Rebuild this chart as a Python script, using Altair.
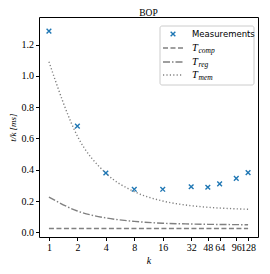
import altair as alt
import pandas as pd

k_vals = [1, 2, 4, 8, 16, 32, 48, 64, 96, 128]
measurements = [1.286, 0.679, 0.379, 0.275, 0.275, 0.291, 0.288, 0.310, 0.345, 0.381]
t_comp = [0.024, 0.024, 0.024, 0.024, 0.024, 0.024, 0.024, 0.024, 0.024, 0.024]
t_reg = [0.225, 0.136, 0.092, 0.070, 0.058, 0.053, 0.051, 0.050, 0.049, 0.048]
t_mem = [1.09, 0.615, 0.378, 0.260, 0.200, 0.170, 0.160, 0.155, 0.150, 0.147]
x_ticks = [1, 2, 4, 8, 16, 32, 48, 64, 96, 128]
y_ticks = [0.0, 0.2, 0.4, 0.6, 0.8, 1.0, 1.2]
title_text = "BOP"

SERIF = "Liberation Serif"
GRAY = "#808080"
BLUE = "#1f77b4"
XPATH = "M-1,-1L1,1M-1,1L1,-1"

W, H = 219, 220

meas_df = pd.DataFrame({"k": k_vals, "t": measurements})
lines_df = pd.concat([
    pd.DataFrame({"k": k_vals, "t": t_comp, "s": "comp"}),
    pd.DataFrame({"k": k_vals, "t": t_reg, "s": "reg"}),
    pd.DataFrame({"k": k_vals, "t": t_mem, "s": "mem"}),
])

xs = alt.Scale(type="log", base=2, domain=[0.785, 163], nice=False)
ys = alt.Scale(domain=[-0.03, 1.376], nice=False, zero=False)

xax = alt.Axis(values=x_ticks, format="d", labelOverlap=False, labelFlush=False,
               grid=False, tickSize=3.5, tickColor="black", domain=False,
               labelFont=SERIF, labelFontSize=10, labelColor="black", labelPadding=2,
               title="k", titleFont=SERIF, titleFontStyle="italic", titleFontWeight="normal",
               titleFontSize=10, titlePadding=3, titleColor="black")
yax = alt.Axis(values=y_ticks, format=".1f", grid=False, tickSize=3.5, tickColor="black",
               domain=False, labelFont=SERIF, labelFontSize=10, labelColor="black",
               labelPadding=2, title="t/k [ms]", titleFont=SERIF, titleFontStyle="italic",
               titleFontWeight="normal", titleFontSize=9, titlePadding=4, titleColor="black")

base_x = alt.X("k:Q", scale=xs, axis=xax)
base_y = alt.Y("t:Q", scale=ys, axis=yax)

dash_scale = alt.Scale(domain=["comp", "reg", "mem"],
                       range=[[5, 2.5], [7, 2, 1.5, 2], [1.2, 2.2]])

lines = alt.Chart(lines_df).mark_line(color=GRAY, strokeWidth=1.4, interpolate="monotone").encode(
    x=base_x, y=base_y,
    strokeDash=alt.StrokeDash("s:N", scale=dash_scale, legend=None),
    detail="s:N",
)

points = alt.Chart(meas_df).mark_point(shape=XPATH, size=22, filled=False, color=BLUE,
                                       strokeWidth=1.4, opacity=1).encode(x=base_x, y=base_y)

dummy = pd.DataFrame({"a": [0]})

title_mark = alt.Chart(dummy).mark_text(text=title_text, font=SERIF, fontSize=9.5, align="center",
                                        baseline="middle", color="black").encode(
    x=alt.value(W / 2), y=alt.value(-4.5))

# manual legend
lx0, lx1, ly0, ly1 = 121, 215, 9, 68
box = alt.Chart(dummy).mark_rect(fill="white", fillOpacity=0.8, stroke="#cccccc",
                                 strokeWidth=1, cornerRadius=2).encode(
    x=alt.value(lx0), x2=alt.value(lx1), y=alt.value(ly0), y2=alt.value(ly1))

rows_y = [17, 31, 45, 58]
leg_x = alt.Chart(dummy).mark_point(shape=XPATH, size=22, filled=False, color=BLUE,
                                    strokeWidth=1.4, opacity=1).encode(
    x=alt.value(134), y=alt.value(rows_y[0]))
leg_txt = alt.Chart(dummy).mark_text(text="Measurements", font="DejaVu Sans", fontSize=8.5,
                                     align="left", baseline="middle", color="black").encode(
    x=alt.value(153), y=alt.value(rows_y[0]))

leg_layers = [box, leg_x, leg_txt]
dashes = [[5, 2.5], [7, 2, 1.5, 2], [1.2, 2.2]]
subs = ["comp", "reg", "mem"]
for i in range(3):
    yy = rows_y[i + 1]
    leg_layers.append(alt.Chart(dummy).mark_rule(color=GRAY, strokeWidth=1.4, strokeDash=dashes[i]).encode(
        x=alt.value(124), x2=alt.value(144), y=alt.value(yy)))
    leg_layers.append(alt.Chart(dummy).mark_text(text="T", font=SERIF, fontStyle="italic", fontSize=10.5,
                                                 align="left", baseline="middle", color="black").encode(
        x=alt.value(153), y=alt.value(yy)))
    leg_layers.append(alt.Chart(dummy).mark_text(text=subs[i], font=SERIF, fontStyle="italic", fontSize=7.5,
                                                 align="left", baseline="middle", color="black").encode(
        x=alt.value(159.5), y=alt.value(yy + 3)))

chart = alt.layer(lines, points, title_mark, *leg_layers).properties(
    width=W, height=H,
    autosize=alt.AutoSizeParams(type="none"),
    padding={"left": 31, "top": 9, "right": 4, "bottom": 29},
).configure_view(stroke="black", strokeWidth=1)

chart.save("out.html", embed_options={"renderer": "svg", "actions": False})
